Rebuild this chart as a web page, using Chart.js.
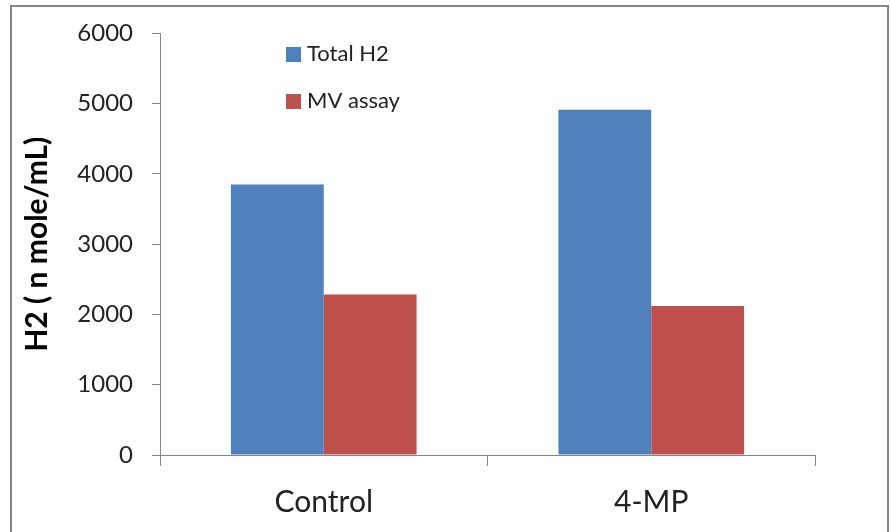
<!DOCTYPE html>
<html>
<head>
<meta charset="utf-8">
<script src="https://cdn.jsdelivr.net/npm/chart.js@4"></script>
<style>
  html, body { margin: 0; padding: 0; background: #fff; }
  #wrap { width: 891px; height: 532px; position: relative; }
</style>
</head>
<body>
<div id="wrap"><canvas id="chart" width="891" height="532"></canvas></div>
<script>
// ── Data ────────────────────────────────────────────────────────────────
const categories = ["Control", "4-MP"];
const totalH2    = [3850, 4915];
const mvAssay    = [2285, 2120];
const seriesNames = ["Total H2", "MV assay"];
const yTitle = "H2 ( n mole/mL)";

const FONT = "Lato, 'Open Sans', sans-serif";
const AXIS = "#868686";

// frame round the whole picture + the legend in the plot
const decor = {
  id: "decor",
  beforeDraw(c) {
    const ctx = c.ctx;
    ctx.save();
    ctx.fillStyle = "#fff";
    ctx.fillRect(0, 0, c.width, c.height);
    ctx.strokeStyle = AXIS; ctx.lineWidth = 2;
    ctx.strokeRect(11, 6, 877, 540);
    ctx.restore();
  },
  afterDraw(c) {
    const ctx = c.ctx;
    ctx.save();
    ctx.font = "22px " + FONT;
    ctx.textBaseline = "middle";
    c.data.datasets.forEach((ds, i) => {
      const y = 54 + i * 47;
      ctx.fillStyle = ds.backgroundColor;
      ctx.fillRect(286, y - 7, 15, 15);
      ctx.fillStyle = "#222";
      ctx.fillText(ds.label, 307, y);
    });
    ctx.restore();
  }
};

new Chart(document.getElementById("chart"), {
  type: "bar",
  data: {
    labels: categories,
    datasets: [
      { label: seriesNames[0], data: totalH2, backgroundColor: "#4F81BD" },
      { label: seriesNames[1], data: mvAssay, backgroundColor: "#C0504D" },
    ],
  },
  options: {
    responsive: false, animation: false,
    layout: { padding: { left: 0, top: 33, right: 76, bottom: 0 } },
    datasets: { bar: { categoryPercentage: 0.567, barPercentage: 1 } },
    plugins: { legend: { display: false }, tooltip: { enabled: false } },
    scales: {
      x: {
        afterFit: s => { s.height = 77; },
        grid: { offset: true, drawOnChartArea: false, tickLength: 11, color: AXIS },
        border: { color: AXIS },
        ticks: { color: "#222", padding: 18, font: { family: FONT, size: 30 } },
      },
      y: {
        min: 0, max: 6000,
        afterFit: s => { s.width = 160; },
        grid: { drawOnChartArea: false, tickLength: 8, color: AXIS },
        border: { color: AXIS },
        ticks: { stepSize: 1000, color: "#222", padding: 19, font: { family: FONT, size: 24 },
                 callback: v => String(v) },
        title: { display: true, text: yTitle, color: "#000", padding: { top: 19, bottom: 0 },
                 font: { family: FONT, size: 30, weight: "bold" } },
      },
    },
  },
  plugins: [decor],
});
</script>
</body>
</html>
